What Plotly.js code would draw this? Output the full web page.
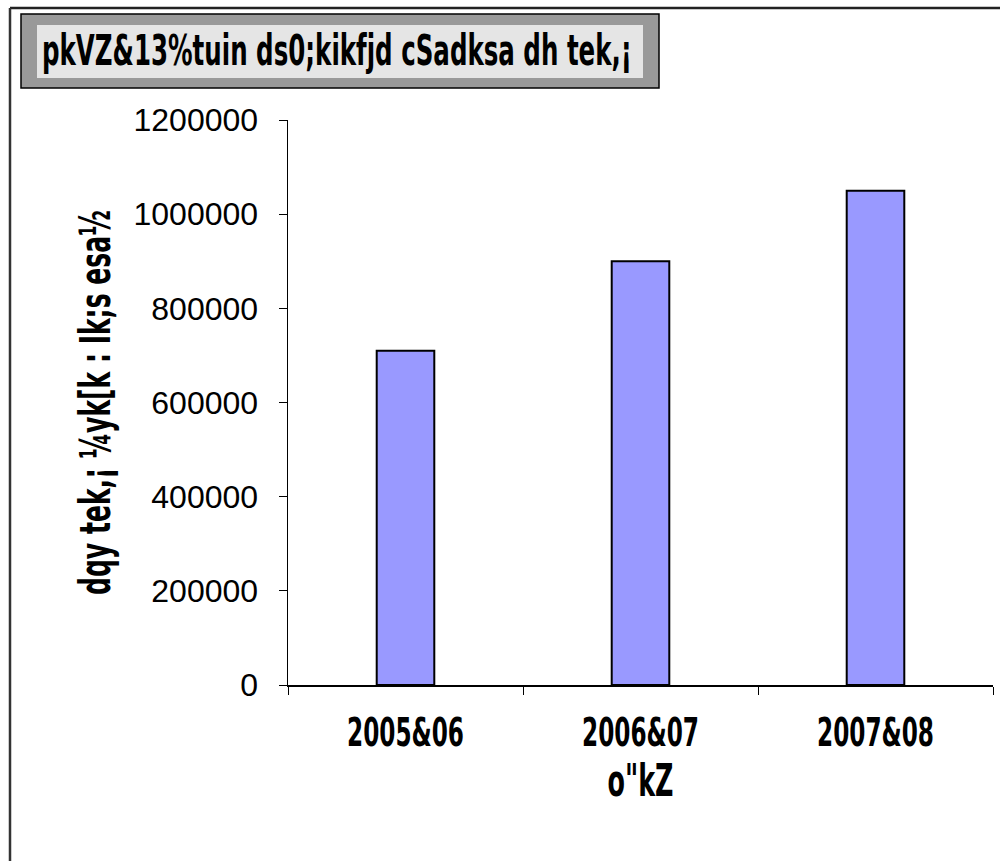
<!DOCTYPE html>
<html>
<head>
<meta charset="utf-8">
<script src="https://cdn.plot.ly/plotly-3.0.1.min.js"></script>
<style>
html,body{margin:0;padding:0;background:#fff;}
#chart{width:1000px;height:861px;}
</style>
</head>
<body>
<div id="chart"></div>
<script>
// ---- data ----
const categories = ["2005&06", "2006&07", "2007&08"];
const deposits = [710000, 900000, 1050000];
const chartTitle = "pkVZ&13%tuin ds0;kikfjd cSadksa dh tek,¡";
const yTitle = "dqy tek,¡ ¼yk[k : Ik;s esa½";
const xTitle = "o\"kZ";
const yTickVals = [0, 200000, 400000, 600000, 800000, 1000000, 1200000];

// ---- layout geometry (pixels) ----
const W = 1000, H = 861;
const M = {l: 288, r: 7, t: 120, b: 176};
const pw = W - M.l - M.r, ph = H - M.t - M.b;
const px = x => (x - M.l) / pw;
const py = y => (H - M.b - y) / ph;

const narrow = '"Liberation Sans Narrow", "DejaVu Sans Condensed", Arial, sans-serif';

const trace = {
  type: 'bar',
  x: categories,
  y: deposits,
  width: 0.245,
  marker: {color: '#9999ff', line: {color: '#000000', width: 2}},
  hoverinfo: 'x+y'
};

const layout = {
  width: W, height: H,
  margin: M,
  paper_bgcolor: '#ffffff',
  plot_bgcolor: '#ffffff',
  showlegend: false,
  xaxis: {
    type: 'category',
    tickson: 'boundaries',
    ticks: 'outside', ticklen: 8, tickcolor: '#000', tickwidth: 1,
    showline: true, linecolor: '#000', linewidth: 1.5,
    showgrid: false, zeroline: false,
    tickfont: {family: narrow, size: 39, color: '#000', weight: 'bold'},
    ticklabelstandoff: 13,
    title: {text: xTitle, font: {family: narrow, size: 44, color: '#000', weight: 'bold'}, standoff: 4},
    range: [-0.5, 2.5]
  },
  yaxis: {
    range: [0, 1200000],
    tickvals: yTickVals,
    ticktext: yTickVals.map(String),
    ticks: 'outside', ticklen: 8, tickcolor: '#000', tickwidth: 1,
    showline: true, linecolor: '#000', linewidth: 1.5,
    showgrid: false, zeroline: false,
    tickfont: {family: 'Liberation Sans, Arial, sans-serif', size: 32, color: '#000'},
    ticklabelstandoff: 14,
    title: {text: yTitle, font: {family: narrow, size: 42, color: '#000', weight: 'bold'}, standoff: 10}
  },
  shapes: [
    // outer frame (top and left edges)
    {type: 'line', xref: 'paper', yref: 'paper', x0: px(10), y0: py(8), x1: px(1002), y1: py(8), line: {color: '#222', width: 2.5}},
    {type: 'line', xref: 'paper', yref: 'paper', x0: px(10), y0: py(8), x1: px(10), y1: py(863), line: {color: '#333', width: 2.5}},
    // title box
    {type: 'rect', xref: 'paper', yref: 'paper', x0: px(21), y0: py(14), x1: px(659), y1: py(88), fillcolor: '#999999', line: {color: '#000', width: 1.5}},
    {type: 'rect', xref: 'paper', yref: 'paper', x0: px(37), y0: py(25), x1: px(643), y1: py(78), fillcolor: '#e5e5e5', line: {width: 0}}
  ],
  annotations: [
    {text: chartTitle, xref: 'paper', yref: 'paper', x: px(40), y: py(50), xanchor: 'left', align: 'left', yanchor: 'middle', showarrow: false,
     font: {family: narrow, size: 42, color: '#000', weight: 'bold'}}
  ]
};

// condense bold texts horizontally to mimic the narrow font of the reference
function condense(sel, len) {
  document.querySelectorAll(sel).forEach(t => {
    t.setAttribute('textLength', len);
    t.setAttribute('lengthAdjust', 'spacingAndGlyphs');
  });
}

Plotly.newPlot('chart', [trace], layout, {displayModeBar: false, staticPlot: true}).then(() => {
  condense('.annotation-text', 590);
  condense('.xtick text', 117);
  condense('.g-xtitle text', 66);
  condense('.g-ytitle text', 385);
});
</script>
</body>
</html>
